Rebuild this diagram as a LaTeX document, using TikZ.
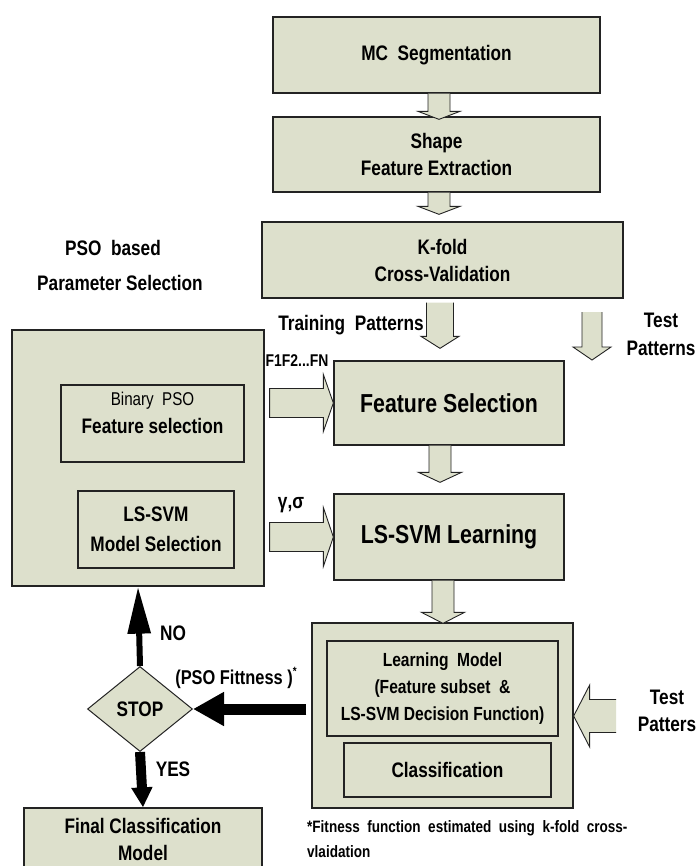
\documentclass[tikz,border=0pt]{standalone}
\usepackage{fontspec}
\setmainfont{Liberation Sans}[FakeStretch=0.82]
\usetikzlibrary{shapes.geometric,arrows.meta,calc}
\definecolor{boxfill}{RGB}{221,224,204}
\definecolor{edge}{RGB}{35,35,35}
\tikzset{
 box/.style={draw=edge, line width=1.3pt, fill=boxfill, align=center, inner sep=0pt, font=\bfseries\fontsize{21}{27}\selectfont},
 lbl/.style={align=center, inner sep=0pt, font=\bfseries\fontsize{21}{27}\selectfont},
 blk/.style={draw=edge, line width=0.9pt, fill=boxfill, line join=miter},
 bigarrow/.style={draw=black, line width=#1},
}
% down block arrow: #1 start, #2 tip, #3 shaft half width, #4 head half width, #5 head length
\newcommand\blkdown[5]{%
 \path[blk] let \p1=#1, \p2=#2 in
  (\x2-#3pt,\y1) -- (\x2-#3pt,\y2+#5pt) -- (\x2-#4pt,\y2+#5pt) -- (\p2) -- (\x2+#4pt,\y2+#5pt) -- (\x2+#3pt,\y2+#5pt) -- (\x2+#3pt,\y1);}
\newcommand\blkright[5]{%
 \path[blk] let \p1=#1, \p2=#2 in
  (\x1,\y2+#3pt) -- (\x2-#5pt,\y2+#3pt) -- (\x2-#5pt,\y2+#4pt) -- (\p2) -- (\x2-#5pt,\y2-#4pt) -- (\x2-#5pt,\y2-#3pt) -- (\x1,\y2-#3pt) -- cycle;}
\newcommand\blkleft[5]{%
 \path[blk] let \p1=#1, \p2=#2 in
  (\x1,\y2+#3pt) -- (\x2+#5pt,\y2+#3pt) -- (\x2+#5pt,\y2+#4pt) -- (\p2) -- (\x2+#5pt,\y2-#4pt) -- (\x2+#5pt,\y2-#3pt) -- (\x1,\y2-#3pt);}
\begin{document}
\begin{tikzpicture}[x=1pt,y=-1pt]
\useasboundingbox[fill=white] (0,0) rectangle (696,866);

% right column boxes
\node[box, minimum width=327, minimum height=76] (mc) at (436.5,55) {MC\ \ Segmentation};
\node[box, minimum width=327, minimum height=75] (shape) at (436.5,154.5) {Shape\\Feature Extraction};
\node[box, minimum width=361, minimum height=76] (kfold) at (442.5,260) {K-fold\\Cross-Validation};
\node[box, minimum width=230, minimum height=84, font=\bfseries\fontsize{26}{30}\selectfont] (fs) at (449,403) {Feature Selection};
\node[box, minimum width=230, minimum height=86, font=\bfseries\fontsize{26}{30}\selectfont] (lsl) at (449,537) {LS-SVM Learning};
\node[box, minimum width=261, minimum height=185] (outer) at (442.5,715.5) {};
\node[box, minimum width=231, minimum height=95, font=\bfseries\fontsize{19}{27}\selectfont] (lm) at (442.5,688.5) {Learning\ \ Model\\(Feature subset\ \ \&\\LS-SVM Decision Function)};
\node[box, minimum width=207, minimum height=54] (cls) at (447.5,770) {Classification};

% left column
\node[box, minimum width=252, minimum height=256] (pso) at (138,458) {};
\node[box, minimum width=183, minimum height=77] (bpso) at (152.5,423.5) {};
\node[lbl, font=\bfseries\fontsize{21}{28}\selectfont] (bpsot) at (152.5,413) {{\mdseries\fontsize{18.5}{28}\selectfont Binary\ \ PSO}\\Feature selection};
\node[box, minimum width=156, minimum height=77, font=\bfseries\fontsize{21}{30}\selectfont] (lsms) at (156,529.5) {LS-SVM\\Model Selection};
\node[box, diamond, line width=1pt, minimum width=105, minimum height=85] (stop) at (140,709) {STOP};
\node[box, minimum width=238, minimum height=62] (final) at (143,839) {Final Classification\\Model};

% labels
\node[lbl] (psob) at (113,248) {PSO\ \ based};
\node[lbl] (parsel) at (120,283) {Parameter Selection};
\node[lbl] (train) at (351,325) {Training\ \ Patterns};
\node[lbl, font=\bfseries\fontsize{21}{28}\selectfont] (testp) at (661,334) {Test\\Patterns};
\node[lbl, font=\bfseries\fontsize{17}{20}\selectfont] (fn) at (297,361) {F1F2...FN};
\node[lbl] (gs) at (291,505) {γ,σ};
\node[lbl] (no) at (173,633) {NO};
\node[lbl] (yes) at (173,769) {YES};
\node[lbl, font=\bfseries\fontsize{20}{24}\selectfont] (fit) at (236,678) {(PSO Fittness )\raisebox{0.45em}{\fontsize{12}{12}\selectfont *}};
\node[lbl, font=\bfseries\fontsize{21}{27}\selectfont] (testp2) at (667,710.5) {Test\\Patters};
\node[lbl, anchor=west, align=left, font=\bfseries\fontsize{16.5}{25}\selectfont] (foot) at (307,839.5) {*Fitness\ \ function\ \ estimated\ \ using\ \ k-fold\ \ cross-\\vlaidation};

% free arrow ends
\coordinate (tt1) at (592,312);
\coordinate (tt2) at (592,360);
\coordinate (tp1) at (616,716);

% block arrows
\blkdown{(mc.south)}{($(shape.north)+(2.5,3)$)}{11}{21}{8}
\blkdown{(shape.south)}{($(kfold.north)+(-3.5,-7)$)}{11}{21}{8}
\blkdown{($(kfold.south)+(0,4)$)}{($(fs.north)+(-9,-12)$)}{13.5}{19}{12}
\blkdown{(tt1)}{(tt2)}{10}{19}{13}
\blkdown{(fs.south)}{($(lsl.north)+(-9,-11)$)}{11}{21.5}{10}
\blkdown{(lsl.south)}{($(outer.north)+(0.5,1)$)}{11}{21.5}{11}
\blkright{($(pso.east |- fs.west)+(5,0)$)}{(fs.west)}{14.5}{28.5}{10}
\blkright{($(pso.east |- lsl.west)+(5,0)$)}{(lsl.west)}{14.5}{29.5}{10}
\blkleft{(tp1)}{($(outer.east)+(0,0.5)$)}{16.5}{31}{16}

% black arrows
\draw[bigarrow=11pt, -{Triangle[length=31pt,width=32pt]}, shorten <=5pt] (outer.west |- stop.east) -- (stop.east);
\draw[bigarrow=6pt, -{Triangle[length=47pt,width=22pt]}] (stop.north) -- (pso.south);
\draw[bigarrow=10pt, -{Triangle[length=20pt,width=20pt]}] (stop.south) -- (final.north);
\end{tikzpicture}
\end{document}
